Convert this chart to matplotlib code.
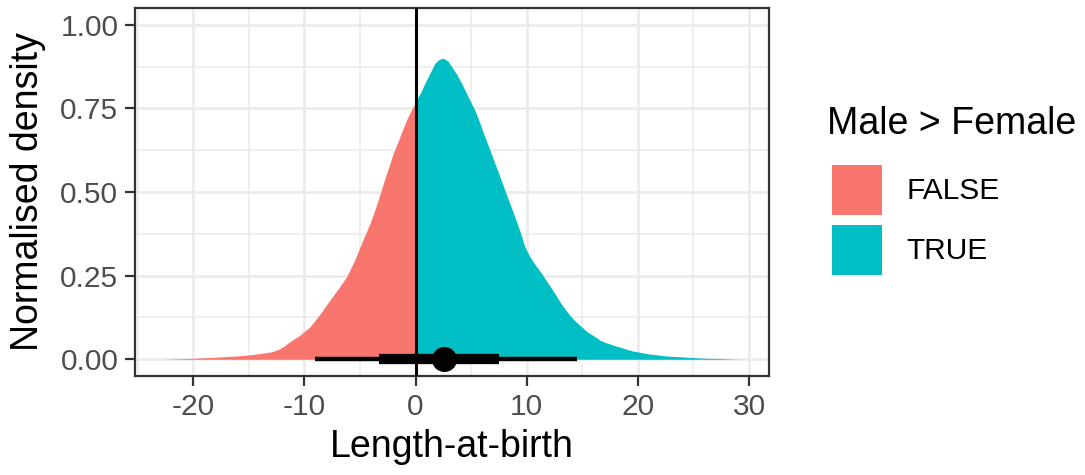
import matplotlib
matplotlib.use("Agg")
import matplotlib.pyplot as plt
from matplotlib.patches import Patch

plt.rcParams['font.family'] = ['Liberation Sans', 'DejaVu Sans']

# ---- data ----
x_false = [-22.7, -21.0, -20.0, -18.0, -16.0, -15.0, -14.0, -13.0, -12.3, -11.8, -11.3,
           -10.4, -9.5, -8.6, -7.7, -6.9, -6.2, -5.5, -4.86, -4.5, -4.1, -3.7, -3.36,
           -3.0, -2.6, -2.3, -2.0, -1.7, -1.41, -1.1, -0.81, -0.5, -0.21, 0.0]
d_false = [0.000, 0.002, 0.003, 0.006, 0.010, 0.013, 0.017, 0.022, 0.030, 0.040, 0.053,
           0.072, 0.097, 0.135, 0.177, 0.213, 0.247, 0.295, 0.347, 0.375, 0.406, 0.443, 0.476,
           0.515, 0.556, 0.586, 0.616, 0.641, 0.665, 0.691, 0.715, 0.737, 0.755, 0.765]
x_true = [0.0, 0.5, 0.84, 1.3, 1.74, 2.1, 2.48, 2.9, 3.24, 3.7, 4.14, 4.7, 5.33, 5.8,
          6.23, 6.7, 7.13, 7.6, 8.03, 8.5, 8.93, 9.4, 9.83, 10.28, 10.8, 11.33, 11.9,
          12.53, 13.1, 13.72, 14.3, 14.93, 15.5, 16.12, 16.6, 17.1, 18.0, 19.5, 21.0,
          22.5, 24.0, 25.5, 27.5, 29.2]
d_true = [0.770, 0.800, 0.825, 0.855, 0.885, 0.896, 0.900, 0.892, 0.875, 0.852, 0.825,
          0.787, 0.745, 0.705, 0.665, 0.625, 0.586, 0.545, 0.506, 0.464, 0.426, 0.382,
          0.337, 0.307, 0.281, 0.257, 0.228, 0.197, 0.166, 0.138, 0.116, 0.097, 0.081,
          0.068, 0.057, 0.050, 0.040, 0.025, 0.016, 0.010, 0.007, 0.004, 0.002, 0.000]
median = 2.58
interval_66 = [-3.27, 7.52]
interval_95 = [-9.06, 14.57]
groups = ["FALSE", "TRUE"]
colors = ["#F8766D", "#00BFC4"]
legend_title = "Male > Female"

xticks = [-20, -10, 0, 10, 20, 30]
yticks = [0.00, 0.25, 0.50, 0.75, 1.00]
ytick_labels = ["0.00", "0.25", "0.50", "0.75", "1.00"]

# ---- figure ----
W, H = 1085, 475
fig = plt.figure(figsize=(W / 100, H / 100), dpi=100)
ax = fig.add_axes([135 / W, 1 - 376 / H, (769 - 135) / W, (376 - 8) / H])

ax.fill_between(x_false, 0, d_false, color=colors[0], lw=0, zorder=2)
ax.fill_between(x_true, 0, d_true, color=colors[1], lw=0, zorder=2)
ax.axvline(0, color="black", lw=2.2, zorder=3)

ax.plot(interval_95, [0, 0], color="black", lw=3.2, solid_capstyle="butt", zorder=4)
ax.plot(interval_66, [0, 0], color="black", lw=7.4, solid_capstyle="butt", zorder=5)
ax.plot([median], [0], "o", color="black", ms=17, zorder=6)

ax.set_xlim(-25.24, 31.8)
ax.set_ylim(-0.05, 1.05)
ax.set_xticks(xticks)
ax.set_xticklabels([str(t) for t in xticks])
ax.set_yticks(yticks)
ax.set_yticklabels(ytick_labels)
ax.set_xticks([-25, -15, -5, 5, 15, 25], minor=True)
ax.set_yticks([0.125, 0.375, 0.625, 0.875], minor=True)
ax.grid(True, which="major", color="#EBEBEB", lw=1.9, zorder=0)
ax.grid(True, which="minor", color="#EBEBEB", lw=1.1, zorder=0)
ax.set_axisbelow(True)
ax.tick_params(which="minor", length=0)
ax.tick_params(which="major", length=7, width=1.6, color="#333333",
               labelsize=21.5, labelcolor="#4D4D4D", pad=5)
for s in ax.spines.values():
    s.set_color("#333333")
    s.set_linewidth(1.6)

ax.set_xlabel("Length-at-birth", fontsize=27, labelpad=6)
ax.set_ylabel("Normalised density", fontsize=27, labelpad=10)

# legend: title as text, keys as legend entries
fig.text(827 / W, 1 - 124 / H, legend_title, fontsize=27, ha="left", va="center")
handles = [Patch(facecolor=c, edgecolor="none") for c in colors]
leg = fig.legend(handles, groups, loc="upper left",
                 bbox_to_anchor=(832 / W, 1 - 165 / H), frameon=False,
                 fontsize=21.5, handlelength=1.67, handleheight=2.19,
                 labelspacing=0.33, handletextpad=0.83,
                 borderpad=0, borderaxespad=0)

fig.savefig("out.png", dpi=100)
